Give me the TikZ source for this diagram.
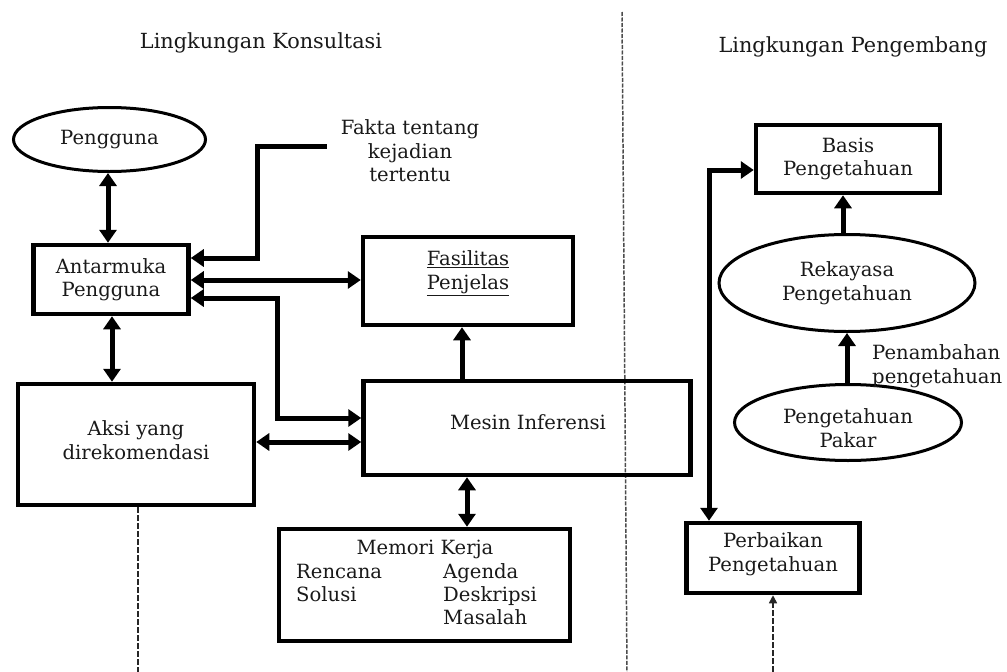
\documentclass[tikz,border=0pt]{standalone}
\usepackage{fontspec}
\setmainfont{DejaVu Serif}
\usetikzlibrary{arrows.meta,shapes.geometric}
\tikzset{
  mytip/.tip={Triangle[length=13pt,width=17pt]},
  smalltip/.tip={Triangle[length=8pt,width=8pt]},
}
\begin{document}
\begin{tikzpicture}[x=1pt,y=-1pt,
  every node/.style={font=\fontsize{19.6}{23.5}\selectfont, text=black!90, align=center, inner sep=0pt},
  titletext/.style={font=\fontsize{20.8}{25}\selectfont},
  box/.style={draw=black, line width=4.5pt, rectangle},
  ell/.style={draw=black, line width=3pt, ellipse},
  arr/.style={line width=5pt, -mytip},
  dbl/.style={line width=5pt, mytip-mytip},
  thindash/.style={line width=1.5pt, dashed, dash pattern=on 6pt off 2pt, draw=black!85},
]
\useasboundingbox (0,0) rectangle (1007,672);

% divider
\coordinate (dtop) at (622,12);
\coordinate (dbot) at (627,672);
\draw[line width=1.5pt, draw=black!70, dash pattern=on 4pt off 1.5pt] (dtop) -- (dbot);

% titles
\node[titletext] (t1) at (261,43) {Lingkungan Konsultasi};
\node[titletext] (t2) at (853,47) {Lingkungan Pengembang};

% left nodes
\node[ell, minimum width=192pt, minimum height=64pt] (peng) at (109.5,139.5) {Pengguna};
\node[box, minimum width=155pt, minimum height=69pt] (ant) at (111,279.5) {Antarmuka\\Pengguna};
\node (fakta) at (410,151) {Fakta tentang\\kejadian\\tertentu};
\node[box, minimum width=210pt, minimum height=88pt] (fas) at (468,281) {};
\node (fasT) at (468,273) {\underline{Fasilitas}\\\underline{Penjelas}};
\node[box, minimum width=236pt, minimum height=121pt] (aksi) at (136,444.5) {};
\node (aksiT) at (136,440) {Aksi yang\\direkomendasi};
\node[box, minimum width=327pt, minimum height=94pt] (mesin) at (527,428) {};
\node (mesT) at (528,422) {Mesin Inferensi};
\node[box, minimum width=291pt, minimum height=112pt] (mem) at (424.5,585) {};
\node[anchor=base] (memT) at (425,554) {Memori Kerja};
\node[anchor=base west] (m1) at (296,578) {Rencana};
\node[anchor=base west] (m2) at (296,601) {Solusi};
\node[anchor=base west] (m3) at (443,578) {Agenda};
\node[anchor=base west] (m4) at (443,601) {Deskripsi};
\node[anchor=base west] (m5) at (443,624) {Masalah};

% right nodes
\node[box, minimum width=184pt, minimum height=68pt] (basis) at (848,159) {Basis\\Pengetahuan};
\node[ell, minimum width=256pt, minimum height=97pt] (rek) at (847,283) {Rekayasa\\Pengetahuan};
\node[ell, minimum width=227pt, minimum height=76pt] (pakar) at (848,422.5) {};
\node (pakarT) at (848,428) {Pengetahuan\\Pakar};
\node[anchor=west, align=left] (tamb) at (872,366) {Penambahan\\pengetahuan};
\node[box, minimum width=173pt, minimum height=70pt] (perb) at (773,558) {};
\node (perbT) at (773,554) {Perbaikan\\Pengetahuan};

% connectors left
\draw[dbl] (peng.south -| 108,0) -- (ant.north -| 108,0);
\coordinate (k1) at (257,258);
\draw[arr] ([xshift=-14pt,yshift=5pt]fakta.west) -| (k1) -- (ant.east |- k1);
\draw[dbl] (ant.east |- 0,280) -- (fas.west |- 0,280);
\coordinate (k2) at (277,298);
\coordinate (k3) at (277,418);
\draw[dbl] (ant.east |- k2) -- (k2) -- (k3) -- (mesin.west |- k3);
\draw[arr] (mesin.north -| 462,0) -- (fas.south -| 462,0);
\draw[dbl] (ant.south -| 112,0) -- (aksi.north -| 112,0);
\draw[dbl] (aksi.east |- 0,442) -- (mesin.west |- 0,442);
\draw[dbl] (mesin.south -| 467,0) -- (mem.north -| 467,0);

% connectors right
\draw[arr] (rek.north -| 843,0) -- (basis.south -| 843,0);
\draw[arr] (pakar.north -| 847,0) -- (rek.south -| 847,0);
\coordinate (k4) at (709,170);
\draw[dbl] (perb.north -| k4) -- (k4) -- (basis.west |- k4);

% dashed lines at bottom
\coordinate (b1) at (138,672);
\draw[thindash] (aksi.south -| b1) -- (b1);
\coordinate (b2) at (773,672);
\draw[thindash, -smalltip] (b2) -- (perb.south);
\end{tikzpicture}
\end{document}
